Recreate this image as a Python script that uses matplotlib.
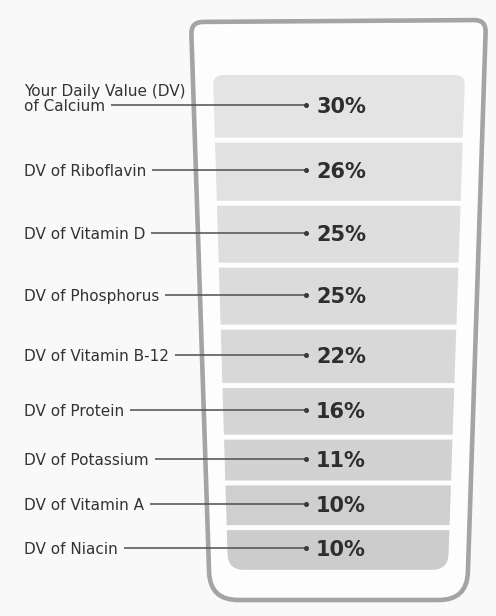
import matplotlib
matplotlib.use("Agg")
import matplotlib.pyplot as plt
from matplotlib.path import Path
from matplotlib.patches import PathPatch
import numpy as np

# ---------------- data ----------------
labels = ["Your Daily Value (DV)\nof Calcium", "DV of Riboflavin", "DV of Vitamin D",
          "DV of Phosphorus", "DV of Vitamin B-12", "DV of Protein",
          "DV of Potassium", "DV of Vitamin A", "DV of Niacin"]
values = [30, 26, 25, 25, 22, 16, 11, 10, 10]
value_labels = [f"{v}%" for v in values]

# ---------------- style / layout ----------------
W, H = 496, 616
MIN_BAND = 24.5      # extra units so small bands stay readable
K = 1.15             # px per unit
GAP = 5              # white gap between bands (px)
TOP = 75             # top of the liquid
BG = "#f9f9f9"

fig = plt.figure(figsize=(W / 100, H / 100), dpi=100)
fig.patch.set_facecolor(BG)
ax = fig.add_axes([0, 0, 1, 1])
ax.set_xlim(0, W)
ax.set_ylim(H, 0)
ax.axis("off")


def rounded_quad(pts, radii):
    pts = [np.asarray(p, float) for p in pts]
    n = len(pts)
    verts, codes = [], []
    for i in range(n):
        p = pts[i]
        prev = pts[i - 1]
        nxt = pts[(i + 1) % n]
        r = radii[i]
        a = p + r * (prev - p) / np.linalg.norm(prev - p)
        b = p + r * (nxt - p) / np.linalg.norm(nxt - p)
        if i == 0:
            verts.append(a); codes.append(Path.MOVETO)
        else:
            verts.append(a); codes.append(Path.LINETO)
        verts += [p, b]; codes += [Path.CURVE3, Path.CURVE3]
    verts.append(verts[0]); codes.append(Path.CLOSEPOLY)
    return Path(verts, codes)


vals = np.array(values, float)
heights = K * (vals + MIN_BAND)
tops = TOP + np.concatenate([[0], np.cumsum(heights + GAP)[:-1]])
bottoms = tops + heights
liquid_bottom = bottoms[-1]


def xl(y):
    return 213 + 15 * (y - TOP) / (liquid_bottom - TOP)


def xr(y):
    return 465 - 17 * (y - TOP) / (liquid_bottom - TOP)


glass = rounded_quad([(191, 22), (486, 20), (467, 600), (210, 600)], [12, 12, 28, 28])
# glass interior (slightly whiter than background)
ax.add_patch(PathPatch(glass, facecolor="#fdfdfd", edgecolor="none", zorder=1))

n = len(values)
c_top = np.array([0xe4, 0xe4, 0xe4]) / 255
c_bot = np.array([0xcc, 0xcc, 0xcc]) / 255

for i in range(n):
    t, b = tops[i], bottoms[i]
    pts = [(xl(t), t), (xr(t), t), (xr(b), b), (xl(b), b)]
    radii = [0, 0, 0, 0]
    if i == 0:
        radii = [10, 10, 0, 0]
    if i == n - 1:
        radii = [0, 0, 16, 16]
    frac = i / (n - 1)
    col = c_top * (1 - frac) + c_bot * frac
    ax.add_patch(PathPatch(rounded_quad(pts, radii), facecolor=col,
                           edgecolor="none", zorder=2))

# glass outline
ax.add_patch(PathPatch(glass, facecolor="none", edgecolor="#a4a4a4",
                       lw=3.3, zorder=3, joinstyle="round"))

# labels
line_y = (tops + bottoms) / 2 - 1.5
label_texts = []
for i, lab in enumerate(labels):
    parts = lab.split("\n")
    last = None
    for k, part in enumerate(parts):
        y = line_y[i] - 15 * (len(parts) - 1 - k)
        last = ax.text(24, y, part, ha="left", va="center_baseline",
                       fontsize=11, color="#333333",
                       family="DejaVu Sans", zorder=5)
    label_texts.append(last)

    ax.text(341, line_y[i], value_labels[i], ha="center", va="center_baseline",
            fontsize=15, fontweight="bold", color="#2e2e2e",
            family="DejaVu Sans", zorder=5)

fig.canvas.draw()
inv = ax.transData.inverted()
for i, t in enumerate(label_texts):
    bb = t.get_window_extent()
    x_end = inv.transform((bb.x1, bb.y0))[0]
    ax.plot([x_end + 6, 306], [line_y[i], line_y[i]], color="#4f4f4f",
            lw=1.1, zorder=4, solid_capstyle="butt")
    ax.plot([306], [line_y[i]], "o", ms=2.6, color="#3a3a3a", zorder=4)

fig.savefig("out.png", dpi=100, facecolor=BG)
